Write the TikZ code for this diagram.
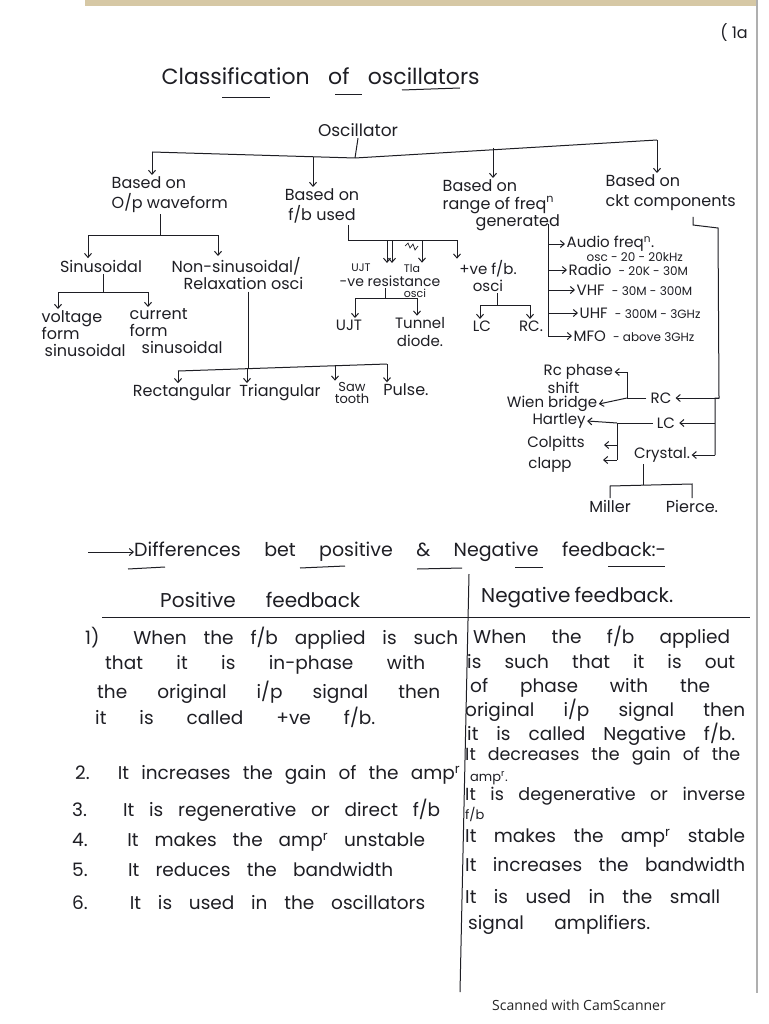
\documentclass[tikz,border=0pt]{standalone}
\usepackage{fontspec}
\setmainfont{Poppins}
\newfontfamily\scanfont{Open Sans}
\usetikzlibrary{arrows.meta,calc}
\definecolor{ink}{RGB}{30,30,36}
\definecolor{edgegray}{RGB}{175,175,175}
\definecolor{tanband}{RGB}{214,200,165}
\newcommand\hsz[1]{\fontsize{#1}{#1}\selectfont}
\newcommand\sline[2]{\makebox[#1][s]{#2}}
\tikzset{
  t/.style={inner sep=1.5pt, font=\fontsize{16}{20}\selectfont, align=center, text=ink},
  tw/.style={t, anchor=west},
  ts/.style={inner sep=1pt, font=\hsz{11}, text=ink},
  ln/.style={draw=ink, line width=1pt},
  arr/.style={ln, -{Straight Barb[length=4pt,width=7pt]}},
  row/.style={inner sep=0pt, anchor=west, font=\hsz{18.5}, text=ink},
}
\begin{document}
\begin{tikzpicture}[x=1pt,y=-1pt]
\useasboundingbox (0,0) rectangle (768,1024);
\fill[white] (0,0) rectangle (768,1024);
% page edges
\fill[tanband] (85,0) rectangle (757,6);
\draw[edgegray, line width=1.5pt] (757,0) -- (757,993);

% title and page number
\node[tw, font=\hsz{22}] (title) at (160,76) {\sline{318pt}{Classification of oscillators}};
\draw[ln] (222,98) -- (270,98);
\draw[ln] (335,95) -- (362,95);
\draw[ln] (402,90) -- (460,88);
\node[t] (pg) at (734,33) {( 1a};

% ---------- tree ----------
\node[t, font=\hsz{17}] (osc) at (358,130) {Oscillator};
\node[t, align=left, anchor=north west] (b1) at (110,175) {Based on\\O/p waveform};
\node[t, anchor=north] (b2) at (322,187) {Based on\\f/b used};
\node[t, align=left, anchor=north west, font=\fontsize{16}{17.5}\selectfont] (b3) at (441,178) {Based on\\range of freq\textsuperscript{n}\\\hspace*{33pt}generated};
\node[t, align=left, anchor=north west] (b4) at (604,173) {Based on\\ckt components};

\coordinate (a1) at (152,152);
\coordinate (a2) at (313,157);
\coordinate (j0) at (355,158);
\coordinate (a3) at (493,148);
\coordinate (a4) at (657,140);
\draw[ln] (osc.south) -- (j0);
\draw[ln] (a1) -- (j0) -- (a4);
\draw[arr] (a1) -- (a1 |- b1.north);
\draw[arr] (a2) -- (a2 |- b2.north);
\draw[arr] (a3) -- (a3 |- b3.north);
\draw[arr] (a4) -- (a4 |- b4.north);

% O/p waveform subtree
\node[t] (sin) at (101,266) {Sinusoidal};
\node[t, align=left, anchor=north west, font=\fontsize{16}{17}\selectfont] (nons) at (170,256) {Non-sinusoidal/\\\hspace*{12pt}Relaxation osci};
\coordinate (s1) at (160,235);
\coordinate (s1l) at (88,235);
\coordinate (s1r) at (218,235);
\draw[ln] (s1 |- b1.south) -- (s1);
\draw[ln] (s1l) -- (s1r);
\draw[arr] (s1l) -- (s1l |- sin.north);
\draw[arr] (s1r) -- (s1r |- nons.north);

\node[t, align=left, anchor=north west, font=\fontsize{16}{17}\selectfont] (vf) at (40,309) {voltage\\form\\\hspace*{3pt}sinusoidal};
\node[t, align=left, anchor=north west, font=\fontsize{16}{17}\selectfont] (cf) at (128,307) {current\\form\\\hspace*{12pt}sinusoidal};
\coordinate (s2) at (103,292);
\coordinate (s2l) at (58,292);
\coordinate (s2r) at (148,292);
\draw[ln] (sin.south -| s2) -- (s2);
\draw[ln] (s2l) -- (s2r);
\draw[arr] (s2l) -- (s2l |- vf.north);
\draw[arr] (s2r) -- (s2r |- cf.north);

\node[t] (rect) at (182,393) {Rectangular};
\node[t] (tri) at (280,393) {Triangular};
\node[t, font=\fontsize{13}{12}\selectfont] (saw) at (352,393) {Saw\\tooth};
\node[t] (pulse) at (406,390) {Pulse.};
\coordinate (s3) at (248,368);
\coordinate (rl) at (178,371);
\coordinate (tl) at (247,368);
\coordinate (sl) at (335,366);
\coordinate (pl) at (387,364);
\draw[ln] (nons.south -| s3) -- (s3);
\draw[ln] (rl) -- (pl);
\draw[arr] (rl) -- (rl |- rect.north);
\draw[arr] (tl) -- (tl |- tri.north);
\draw[arr] (sl) -- (sl |- saw.north);
\draw[arr] (pl) -- (pl |- pulse.north);

% f/b subtree
\node[ts] (ujtsm) at (361,268) {UJT};
\node[ts] (tlasm) at (412,268) {Tla};
\node[t, font=\hsz{14}] (negres) at (390,281) {-ve resistance};
\node[ts] (oscsm) at (415,293) {osci};
\node[t, font=\fontsize{15}{17}\selectfont] (pfb) at (488,276) {+ve f/b.\\osci};
\coordinate (s4) at (348,240);
\coordinate (d1) at (387,240);
\coordinate (d2) at (392,240);
\coordinate (d3) at (422,240);
\coordinate (d4) at (457,240);
\draw[ln] (s4 |- b2.south) -- (s4) -- (d4);
\draw[arr] (d1) -- (d1 |- ujtsm.north);
\draw[arr] (d2) -- (d2 |- ujtsm.north);
\draw[arr] (d3) -- (d3 |- tlasm.north);
\draw[arr] (d4) -- (d4 |- pfb.north);
\draw[ln, line width=0.7pt] (405,246) -- (408,243) -- (410,248) -- (413,244) -- (415,250) -- (418,246);

\node[t, font=\hsz{15}] (ujt) at (349,325) {UJT};
\node[t, font=\fontsize{15}{18}\selectfont] (tunnel) at (420,332) {Tunnel\\diode.};
\coordinate (s5) at (385,298);
\coordinate (s5l) at (355,298);
\coordinate (s5r) at (417,298);
\draw[ln] (negres.south -| s5) -- (s5);
\draw[ln] (s5l) -- (s5r);
\draw[arr] (s5l) -- (s5l |- ujt.north);
\draw[arr] (s5r) -- (s5r |- tunnel.north);

\node[t, font=\hsz{15}] (lc) at (482,326) {LC};
\node[t, font=\hsz{15}] (rc) at (531,326) {RC.};
\coordinate (s6) at (497,305);
\coordinate (s6l) at (480,305);
\coordinate (s6r) at (530,305);
\draw[ln] (pfb.south -| s6) -- (s6);
\draw[ln] (s6l) -- (s6r);
\draw[arr] (s6l) -- (s6l |- lc.north);
\draw[arr] (s6r) -- (s6r |- rc.north);

% range of frequency subtree
\node[tw, font=\hsz{15}] (audio) at (565,244) {Audio freq\textsuperscript{n}.};
\node[tw, font=\hsz{12}] (audio2) at (585,257) {osc - 20 - 20kHz};
\node[tw, font=\hsz{15}] (radio) at (567,270) {Radio {\hsz{12} - 20K - 30M}};
\node[tw, font=\hsz{15}] (vhf) at (575,290) {VHF {\hsz{12} - 30M - 300M}};
\node[tw, font=\hsz{15}] (uhf) at (578,313) {UHF {\hsz{12} - 300M - 3GHz}};
\node[tw, font=\hsz{15}] (mfo) at (572,336) {MFO {\hsz{12} - above 3GHz}};
\coordinate (rt) at (548,224);
\draw[ln] (rt) -- (rt |- mfo.west);
\draw[arr] (rt |- audio.west) -- (audio.west);
\draw[arr] (rt |- radio.west) -- (radio.west);
\draw[arr] (rt |- vhf.west) -- (vhf.west);
\draw[arr] (rt |- uhf.west) -- (uhf.west);
\draw[arr] (rt |- mfo.west) -- (mfo.west);

% circuit components subtree
\node[t, font=\hsz{15}, inner sep=4pt] (rcn) at (661,398) {RC};
\node[t, font=\hsz{15}, inner sep=4pt] (lcn) at (666,423) {LC};
\node[t, font=\hsz{15}] (crys) at (662,455) {Crystal.};
\coordinate (c0) at (693,217);
\coordinate (c1) at (693,225);
\coordinate (c2) at (718,228);
\coordinate (c3) at (719,398);
\coordinate (c4) at (715,398);
\coordinate (c5) at (715,455);
\draw[ln] (c0) -- (c1) -- (c2) -- (c3) -- (c4) -- (c5);
\draw[arr] (c3) -- (rcn.east);
\draw[arr] (c4 |- lcn.east) -- (lcn.east);
\draw[arr] (c5) -- (crys.east);

\node[tw, font=\hsz{15}] (phase) at (542,372) {Rc phase};
\node[tw, font=\hsz{15}] (shift) at (546,388) {shift};
\node[t, font=\hsz{15}] (wien) at (552,404) {Wien bridge};
\coordinate (r1) at (627,398);
\coordinate (r0) at (627,372);
\draw[ln] (rcn.west) -- (r1) -- (r0);
\draw[arr] (r0) -- (phase.east);
\draw[arr] (r1) -- (wien.east);

\node[t, font=\hsz{15}] (hart) at (559,421) {Hartley};
\node[t, font=\hsz{15}] (colp) at (556,444) {Colpitts};
\node[t, font=\hsz{15}] (clapp) at (550,465) {clapp};
\coordinate (l1) at (617,423);
\coordinate (l2) at (617,460);
\coordinate (ce) at (604,445);
\coordinate (le) at (603,460);
\draw[ln] (lcn.west) -- (l1) -- (l2);
\draw[arr] (l1) -- (hart.east);
\draw[arr] (l1 |- ce) -- (ce);
\draw[arr] (l2) -- (le);

\node[t] (miller) at (610,506) {Miller};
\node[t] (pierce) at (692,506) {Pierce.};
\coordinate (x0) at (643,485);
\coordinate (xl) at (610,486);
\coordinate (xr) at (692,484);
\draw[ln] (crys.south -| x0) -- (x0);
\draw[ln] (miller.north -| xl) -- (xl) -- (xr) -- (pierce.north -| xr);

% ---------- differences ----------
\node[row, font=\hsz{19}] (diff) at (134,552) {\sline{532pt}{Differences bet positive \& Negative feedback:-}};
\coordinate (da) at (88,552);
\draw[arr] (da) -- (diff.west);
\draw[ln] (128,569) -- (165,567);
\draw[ln] (300,568) -- (345,566);
\draw[ln] (417,569) -- (462,568);
\draw[ln] (515,567) -- (543,567);
\draw[ln] (608,566) -- (665,566);

\node[row, font=\hsz{20}] (pfh) at (160,600) {\sline{200pt}{Positive feedback}};
\node[row, font=\hsz{20}] (nfh) at (481,598) {\sline{192pt}{Negative feedback.}};
\draw[ln] (102,617) -- (750,617);
\draw[ln] (469,574) -- (460,992);

% left column
\node[row] (p1a) at (85,638) {\sline{373pt}{1)\ \ When the f/b applied is such}};
\node[row] (p1b) at (105,665) {\sline{320pt}{that it is in-phase with}};
\node[row] (p1c) at (97,692) {\sline{343pt}{the original i/p signal then}};
\node[row] (p1d) at (95,717) {\sline{280pt}{it is called +ve f/b.}};
\node[row] (p2) at (75,775) {\sline{385pt}{2. It increases the gain of the amp\textsuperscript{r}}};
\node[row] (p3) at (72,810) {\sline{368pt}{3. It is regenerative or direct f/b}};
\node[row] (p4) at (72,842) {\sline{353pt}{4. It makes the amp\textsuperscript{r} unstable}};
\node[row] (p5) at (72,870) {\sline{321pt}{5. It reduces the bandwidth}};
\node[row] (p6) at (72,903) {\sline{353pt}{6. It is used in the oscillators}};

% right column
\node[row] (n1a) at (473,637) {\sline{257pt}{When the f/b applied}};
\node[row] (n1b) at (467,662) {\sline{268pt}{is such that it is out}};
\node[row] (n1c) at (470,688) {\sline{240pt}{of phase with the}};
\node[row] (n1d) at (465,710) {\sline{280pt}{original i/p signal then}};
\node[row] (n1e) at (467,734) {\sline{268pt}{it is called Negative f/b.}};
\node[row, font=\hsz{17.5}] (n2a) at (465,756) {\sline{275pt}{It decreases the gain of the}};
\node[row, font=\hsz{13}] (n2b) at (470,778) {amp\textsuperscript{r}.};
\node[row, font=\hsz{17.5}] (n3a) at (465,796) {\sline{280pt}{It is degenerative or inverse}};
\node[row, font=\hsz{13}] (n3b) at (465,814) {f/b};
\node[row] (n4) at (465,838) {\sline{280pt}{It makes the amp\textsuperscript{r} stable}};
\node[row] (n5) at (465,865) {\sline{280pt}{It increases the bandwidth}};
\node[row] (n6a) at (465,897) {\sline{255pt}{It is used in the small}};
\node[row] (n6b) at (468,925) {\sline{182pt}{signal amplifiers.}};

% footer
\node[font=\scanfont\fontsize{14}{14}\selectfont, text=black!85, inner sep=0pt] (scan) at (579,1005) {Scanned with CamScanner};
\end{tikzpicture}
\end{document}
